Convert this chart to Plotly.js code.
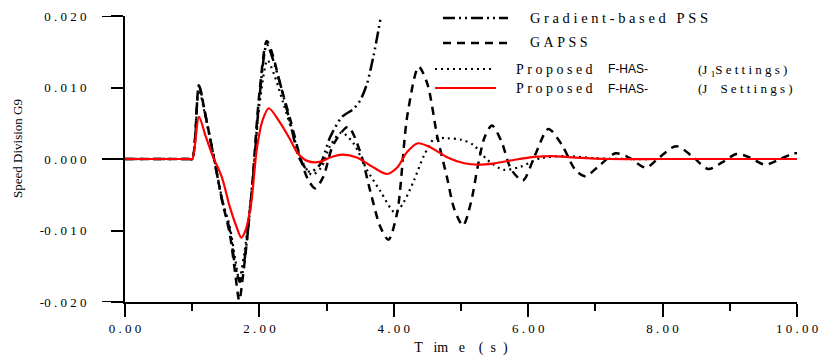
<!DOCTYPE html>
<html>
<head>
<meta charset="utf-8">
<script src="https://cdn.plot.ly/plotly-3.0.1.min.js"></script>
<style>html,body{margin:0;padding:0;background:#fff;}#chart{width:819px;height:356px;}</style>
</head>
<body>
<div id="chart"></div>
<script>
// ---- Data ----
const gradT = [0, 0.95, 1.0, 1.1, 1.2, 1.31, 1.45, 1.56, 1.64, 1.71, 1.78, 1.85, 1.92, 2.0, 2.11, 2.2, 2.31, 2.46, 2.6, 2.75, 2.9, 3.05, 3.23, 3.4, 3.5, 3.6, 3.7, 3.8];
const gradV = [0, 0, 0, 0.0103, 0.0060, 0.0008, -0.0060, -0.0100, -0.0150, -0.0172, -0.0140, -0.0080, -0.0010, 0.0085, 0.0160, 0.0140, 0.0105, 0.0050, 0.0000, -0.0018, -0.0008, 0.0030, 0.0059, 0.0070, 0.0082, 0.0105, 0.0145, 0.0195];

const gapssT = [0, 0.95, 1.0, 1.1, 1.2, 1.31, 1.45, 1.56, 1.64, 1.70, 1.76, 1.83, 1.89, 2.0, 2.11, 2.2, 2.3, 2.46, 2.6, 2.72, 2.83, 2.95, 3.1, 3.32, 3.5, 3.65, 3.8, 3.92, 4.05, 4.2, 4.37, 4.5, 4.65, 4.79, 4.9, 5.03, 5.15, 5.25, 5.35, 5.46, 5.6, 5.75, 5.92, 6.1, 6.3, 6.5, 6.7, 6.85, 7.05, 7.3, 7.5, 7.75, 7.95, 8.2, 8.45, 8.68, 8.9, 9.1, 9.3, 9.52, 9.75, 9.95, 10];
const gapssV = [0, 0, 0, 0.0102, 0.0060, 0.0008, -0.0060, -0.0105, -0.0160, -0.0198, -0.0160, -0.0100, -0.0040, 0.0092, 0.0165, 0.0145, 0.0108, 0.0055, 0.0005, -0.0028, -0.0041, -0.0025, 0.0020, 0.0045, 0.0010, -0.0045, -0.0095, -0.0113, -0.0075, 0.0060, 0.0129, 0.0105, 0.0030, -0.0025, -0.0070, -0.0093, -0.0060, -0.0010, 0.0030, 0.0047, 0.0025, -0.0015, -0.0030, 0.0005, 0.0042, 0.0020, -0.0015, -0.0024, -0.0010, 0.0008, 0.0002, -0.0012, 0.0002, 0.0018, 0.0003, -0.0014, -0.0004, 0.0007, 0.0002, -0.0008, 0.0000, 0.0008, 0.0008];

const j1T = [0, 0.95, 1.0, 1.1, 1.2, 1.31, 1.45, 1.56, 1.64, 1.70, 1.77, 1.85, 1.92, 2.0, 2.12, 2.22, 2.35, 2.5, 2.62, 2.78, 2.92, 3.05, 3.22, 3.4, 3.6, 3.8, 4.02, 4.15, 4.3, 4.45, 4.6, 4.8, 5.0, 5.18, 5.39, 5.63, 5.88, 6.18, 6.58, 7.0, 7.5, 8, 9, 10];
const j1V = [0, 0, 0, 0.0096, 0.0058, 0.0008, -0.0058, -0.0095, -0.0140, -0.0168, -0.0135, -0.0075, -0.0010, 0.0075, 0.0138, 0.0118, 0.0080, 0.0035, 0.0000, -0.0022, -0.0012, 0.0018, 0.0037, 0.0022, -0.0015, -0.0045, -0.0075, -0.0060, -0.0030, 0.0005, 0.0028, 0.0029, 0.0027, 0.0020, -0.0001, -0.0015, -0.0011, 0.0001, 0.0004, 0.0001, 0, 0, 0, 0];

const jT = [0, 0.95, 1.0, 1.1, 1.2, 1.31, 1.44, 1.56, 1.66, 1.73, 1.8, 1.88, 1.96, 2.05, 2.14, 2.3, 2.46, 2.57, 2.72, 2.9, 3.05, 3.23, 3.45, 3.7, 3.9, 4.05, 4.2, 4.36, 4.55, 4.8, 5.05, 5.25, 5.5, 5.8, 6.1, 6.35, 6.7, 7.2, 8, 9, 10];
const jV = [0, 0, 0, 0.0059, 0.0032, 0.0003, -0.0025, -0.0067, -0.0095, -0.0110, -0.0098, -0.0060, 0.0013, 0.0055, 0.0071, 0.0052, 0.0027, 0.0008, -0.0003, -0.0004, 0.0002, 0.0006, 0.0002, -0.0012, -0.0021, -0.0012, 0.0010, 0.0022, 0.0016, 0.0002, -0.0006, -0.0008, -0.0006, -0.0001, 0.0003, 0.0004, 0.0002, 0.0000, 0, 0, 0];

const xTickVals = [0, 2, 4, 6, 8, 10];
const xTickLabels = ["0.00", "2.00", "4.00", "6.00", "8.00", "10.00"];
const yTickVals = [-0.02, -0.01, 0, 0.01, 0.02];
const yTickLabels = ["-0.020", "-0.010", "0.000", "0.010", "0.020"];
const yMajorVals = [-0.02, 0, 0.02];

const seriesNames = ["Gradient-based PSS", "GAPSS", "Proposed F-HAS- (J1 Settings)", "Proposed F-HAS- (J Settings)"];

// ---- Helpers ----
const NB = '\u00A0';
const sp = s => s.split('').map(c => c === ' ' ? NB + NB : c).join(NB);
const spNum = s => s[0] === '-' ? '-' + sp(s.slice(1)) : sp(s);
const serif = '"Liberation Serif", "Times New Roman", Times, serif';
const sans = '"Liberation Sans", Arial, sans-serif';

// plot area in pixels: x 125..797, y 16..302
const L = 125, R = 797, T = 16, B = 302;
const px = x => (x - L) / (R - L);
const py = y => (B - y) / (B - T);

const traces = [
  {x: gradT, y: gradV, name: seriesNames[0], mode: 'lines', line: {color: '#000', width: 2.5, dash: '12px,4px,2px,4px,2px,4px', shape: 'spline', smoothing: 0.8}},
  {x: gapssT, y: gapssV, name: seriesNames[1], mode: 'lines', line: {color: '#000', width: 2.5, dash: '8px,6px', shape: 'spline', smoothing: 0.8}},
  {x: j1T, y: j1V, name: seriesNames[2], mode: 'lines', line: {color: '#000', width: 2.2, dash: '2px,4px', shape: 'spline', smoothing: 0.8}},
  {x: jT, y: jV, name: seriesNames[3], mode: 'lines', line: {color: '#ff0000', width: 2.2, shape: 'spline', smoothing: 0.8}}
];

const shapes = [];
// long ticks at major y values
yMajorVals.forEach(v => shapes.push({type: 'line', xref: 'paper', yref: 'y', x0: px(102), x1: 0, y0: v, y1: v, line: {color: '#000', width: 2}}));
// legend samples
const legRows = [
  {y: 18, x0: 443, x1: 508, line: {color: '#000', width: 2.5, dash: '12px,4px,2px,4px,2px,4px'}},
  {y: 43, x0: 443, x1: 508, line: {color: '#000', width: 2.5, dash: '8px,6px'}},
  {y: 69, x0: 435, x1: 494, line: {color: '#000', width: 2.2, dash: '2px,4px'}},
  {y: 88, x0: 435, x1: 496, line: {color: '#ff0000', width: 2.2}}
];
legRows.forEach(r => shapes.push({type: 'line', xref: 'paper', yref: 'paper', x0: px(r.x0), x1: px(r.x1), y0: py(r.y), y1: py(r.y), line: r.line}));

const ann = (text, x, y, f, extra) => Object.assign({text: text, xref: 'paper', yref: 'paper', x: px(x), y: py(y), xanchor: 'left', yanchor: 'middle', showarrow: false, font: f}, extra || {});
const fSerif = {family: serif, size: 14, color: '#000'};
const fSerifS = {family: serif, size: 13, color: '#000'};
const fSans = {family: sans, size: 12, color: '#000'};
const annotations = [
  ann(sp('Gradient-based') + NB + NB + NB + sp('PSS'), 528, 18, {family: serif, size: 14.5, color: '#000'}),
  ann(sp('GAPSS'), 528, 43, fSerif),
  ann(sp('Proposed'), 514, 69, fSerif),
  ann('F-HAS-', 606, 69, fSans),
  ann('(J' + NB + '<sub>1</sub>' + sp('Settings)'), 696, 70, fSerifS),
  ann(sp('Proposed'), 514, 89, fSerif),
  ann('F-HAS-', 606, 89, fSans),
  ann('(J' + NB + NB + NB + NB + sp('Settings)'), 696, 89, fSerifS),
  ann('Speed Division G9', 17, 148, {family: serif, size: 13, color: '#000'}, {xanchor: 'center', textangle: -90})
];

const layout = {
  width: 819, height: 356,
  margin: {l: L, r: 819 - R, t: T, b: 356 - B, pad: 0},
  paper_bgcolor: '#fff', plot_bgcolor: '#fff',
  showlegend: false,
  font: {family: serif, color: '#000'},
  xaxis: {
    range: [0, 10], showgrid: false, zeroline: false, showline: true, linecolor: '#000', linewidth: 2,
    ticks: 'outside', ticklen: 13, tickwidth: 2, tickcolor: '#000',
    tickmode: 'array', tickvals: xTickVals, ticktext: xTickLabels.map(spNum),
    tickfont: {family: serif, size: 13, color: '#000'},
    minor: {tickmode: 'linear', tick0: 1, dtick: 2, ticks: 'outside', ticklen: 7, tickwidth: 2, tickcolor: '#000'},
    title: {text: 'T' + NB + NB + NB + 'im' + NB + NB + NB + 'e' + NB + NB + NB + NB + '(' + NB + NB + 's' + NB + NB + ')', font: {family: serif, size: 14, color: '#000'}, standoff: 8}
  },
  yaxis: {
    range: [-0.02, 0.02], showgrid: false, zeroline: false, showline: true, linecolor: '#000', linewidth: 2,
    ticks: 'outside', ticklen: 12, tickwidth: 2, tickcolor: '#000',
    tickmode: 'array', tickvals: yTickVals, ticktext: yTickLabels.map(spNum),
    tickfont: {family: serif, size: 13, color: '#000'},
    ticklabelstandoff: 22
  },
  shapes: shapes,
  annotations: annotations
};

Plotly.newPlot('chart', traces, layout, {displayModeBar: false, staticPlot: true});
</script>
</body>
</html>
